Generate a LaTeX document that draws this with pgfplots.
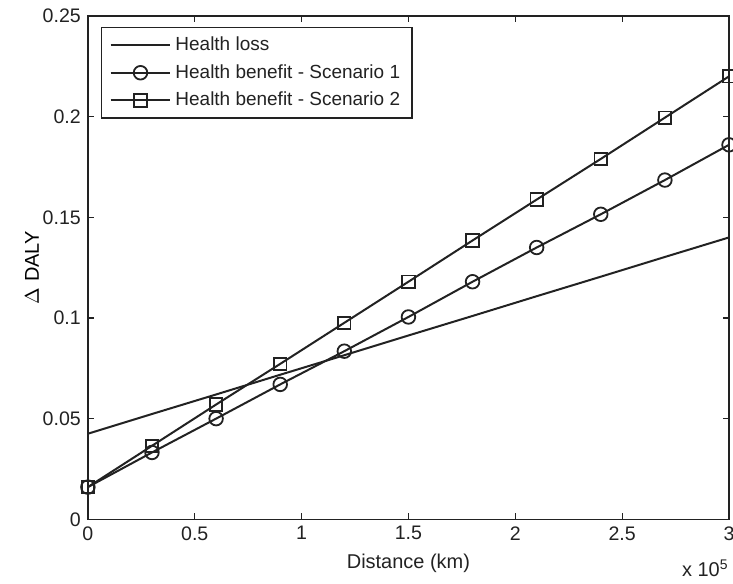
\documentclass[border=0pt]{standalone}
\usepackage{pgfplots}
\pgfplotsset{compat=1.18}
\usepackage{fontspec}
\setmainfont{Liberation Sans}
\definecolor{ink}{HTML}{222222}

\begin{document}
\begin{tikzpicture}
\begin{axis}[
  name=ax,
  scale only axis, width=321pt, height=252pt,
  xmin=0, xmax=300000, ymin=0, ymax=0.25,
  xtick={0,50000,100000,150000,200000,250000,300000},
  ytick={0,0.05,0.1,0.15,0.2,0.25},
  scaled x ticks=manual:{x 10\textsuperscript{5}}{\pgfmathparse{#1/100000}},
  every x tick scale label/.style={at={(rel axis cs:1,0)}, anchor=north east, yshift=-20pt, xshift=0pt, inner sep=0pt, font=\fontsize{10}{12}\selectfont, text=ink},
  scaled y ticks=false,
  yticklabel style={/pgf/number format/fixed, /pgf/number format/precision=2},
  xticklabel style={/pgf/number format/fixed, /pgf/number format/precision=1},
  /pgf/number format/assume math mode=true,
  tick label style={font=\fontsize{9.8}{11}\selectfont, text=ink},
  label style={font=\fontsize{10}{12}\selectfont, text=ink},
  tick align=inside, major tick length=3pt,
  axis line style={ink, line width=0.7pt},
  every tick/.style={ink, line width=0.6pt},
  xlabel={Distance (km)}, ylabel={$\Delta$ DALY},
  xlabel style={yshift=0pt},
  every axis y label/.style={at={(rel axis cs:0,0.5)}, rotate=90, anchor=center, yshift=28pt},
  legend style={at={(rel axis cs:0,1)}, anchor=north west, xshift=6.5pt, yshift=-5.5pt,
    draw=ink, line width=0.7pt, font=\fontsize{9.5}{11}\selectfont, text=ink,
    row sep=1.5pt, inner xsep=4pt, inner ysep=2.5pt},
  legend cell align=left,
  legend image code/.code={\draw[mark repeat=2,mark phase=2,#1] plot coordinates {(0pt,0pt) (15pt,0pt) (30pt,0pt)};},
  every axis plot/.append style={ink, line width=1pt},
]
\addplot[no marks] coordinates {
  (0,0.0425) (30000,0.0523) (60000,0.062) (90000,0.0718) (120000,0.0815)
  (150000,0.0913) (180000,0.101) (210000,0.1108) (240000,0.1205)
  (270000,0.1303) (300000,0.140)};
\addlegendentry{Health loss}
\addplot[mark=o, mark size=3.4pt, mark options={solid, line width=0.9pt}] coordinates {
  (0,0.016) (30000,0.0332) (60000,0.050) (90000,0.067) (120000,0.0835)
  (150000,0.1005) (180000,0.118) (210000,0.135) (240000,0.1515)
  (270000,0.1685) (300000,0.186)};
\addlegendentry{Health benefit - Scenario 1}
\addplot[mark=square, mark size=3.1pt, mark options={solid, line width=0.9pt}] coordinates {
  (0,0.016) (30000,0.0365) (60000,0.057) (90000,0.0772) (120000,0.0976)
  (150000,0.118) (180000,0.1385) (210000,0.1588) (240000,0.179)
  (270000,0.1995) (300000,0.220)};
\addlegendentry{Health benefit - Scenario 2}
\end{axis}
\pgfresetboundingbox
\path ([shift={(-44pt,-32pt)}]ax.south west) rectangle ([shift={(2pt,8pt)}]ax.north east);
\end{tikzpicture}
\end{document}
